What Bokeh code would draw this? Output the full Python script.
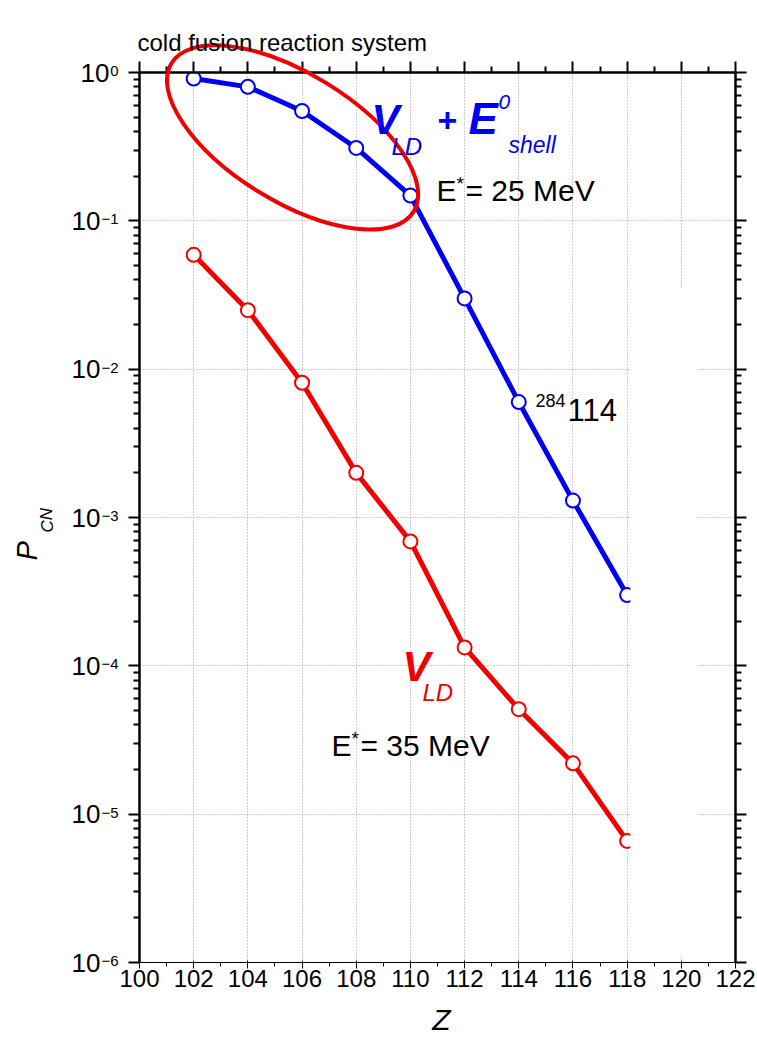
from bokeh.plotting import figure
from bokeh.models import (FixedTicker, LinearAxis, LogAxis, Range1d,
                          ColumnDataSource, CustomJSTickFormatter, BoxAnnotation)
from bokeh.core.properties import value
from bokeh.embed import file_html
from bokeh.resources import INLINE

# Atomic number of the compound nucleus
Z = [102, 104, 106, 108, 110, 112, 114, 116, 118]
# Fusion probability P_CN with the shell-corrected potential (E* = 25 MeV)
pcn_shell = [0.91, 0.80, 0.55, 0.31, 0.148, 0.030, 0.0060, 0.0013, 3.0e-4]
# Fusion probability P_CN with the liquid-drop potential only (E* = 35 MeV)
pcn_ld = [0.059, 0.025, 0.0081, 0.0020, 6.9e-4, 1.33e-4, 5.1e-5, 2.2e-5, 6.6e-6]

x_ticks = list(range(100, 123, 2))
x_minor = list(range(101, 122, 2))
decades = [0, -1, -2, -3, -4, -5, -6]

BLUE = "#0000f0"
RED = "#f00000"
SANS = "Liberation Sans"

W, H = 757, 1050
FL, FT, FW, FH = 139, 72, 596, 890

p = figure(width=W, height=H, x_range=Range1d(100, 122), y_range=Range1d(1e-6, 1),
           y_axis_type="log", output_backend="svg", toolbar_location=None,
           min_border_left=FL, min_border_right=W - FL - FW,
           min_border_top=FT, min_border_bottom=H - FT - FH)
p.outline_line_color = None
p.background_fill_color = "white"
p.border_fill_color = "white"

xt = FixedTicker(ticks=x_ticks, minor_ticks=x_minor)
yt = FixedTicker(ticks=[10.0 ** e for e in decades],
                 minor_ticks=[m * 10.0 ** e for e in range(-6, 0) for m in range(2, 10)])
blank = CustomJSTickFormatter(code="return ''")

p.xaxis.ticker = xt
p.yaxis.ticker = yt
p.yaxis.formatter = blank
p.xaxis.major_label_text_font = SANS
p.xaxis.major_label_text_font_size = "24px"
p.xaxis.major_label_text_color = "black"
p.xaxis.major_label_standoff = 1

top_axis = LinearAxis(ticker=xt, formatter=blank)
right_axis = LogAxis(ticker=yt, formatter=blank)
p.add_layout(top_axis, "above")
p.add_layout(right_axis, "right")

for ax in [p.xaxis[0], p.yaxis[0], top_axis, right_axis]:
    ax.axis_line_width = 2.5
    ax.axis_line_color = "black"
    ax.major_tick_line_width = 2
    ax.major_tick_line_color = "black"
    ax.minor_tick_line_width = 2
    ax.minor_tick_line_color = "black"
    ax.major_tick_in = 0
    ax.major_tick_out = 11
    ax.minor_tick_in = 0
    ax.minor_tick_out = 6

for g in [p.xgrid[0], p.ygrid[0]]:
    g.grid_line_color = "#9a9a9a"
    g.grid_line_width = 1
    g.grid_line_dash = "1 2"

src = ColumnDataSource(dict(z=Z, shell=pcn_shell, ld=pcn_ld))
p.line("z", "shell", source=src, line_color=BLUE, line_width=5)
p.scatter("z", "shell", source=src, size=14, fill_color="white", line_color=BLUE, line_width=2)
p.line("z", "ld", source=src, line_color=RED, line_width=5)
p.scatter("z", "ld", source=src, size=14, fill_color="white", line_color=RED, line_width=2)

# blank panel at the right edge of the frame
p.add_layout(BoxAnnotation(left=118.12, right=120.6, bottom=1.1e-6, top=0.035,
                           fill_color="white", fill_alpha=1.0, line_color=None,
                           level="glyph"))

# red ring around the low-Z part of the shell-corrected curve
ring = p.ellipse(x=[105.65], y=[0.365], width=284, height=128,
                 width_units="screen", height_units="screen", angle=-0.55,
                 fill_color=None, line_color=RED, line_width=4)
ring.level = "overlay"


def put(text, dx, dy, size, color="black", style="normal", align="left",
        angle=0.0, x0=100, y0=1.0):
    """Text pinned to a data anchor (frame top-left by default), shifted in pixels
    so that (dx, dy) is the start of the baseline."""
    lift = 0.5 * size - 3
    if angle:
        dx -= lift
    else:
        dy -= lift
    r = p.text(x=[x0], y=[y0], text=[text], x_offset=dx, y_offset=dy, angle=angle,
               text_font=value(SANS), text_font_size=f"{size}px",
               text_font_style=style, text_color=color, text_align=align,
               text_baseline="alphabetic")
    r.level = "overlay"


# y tick labels: 10 with a raised exponent
for e in decades:
    sup = "0" if e == 0 else "\u2212" + str(-e)
    put(sup, -21, 3, 15, align="right", y0=10.0 ** e)
    put("10", -22 - round(8.5 * len(sup)), 10, 26, align="right", y0=10.0 ** e)

# axis titles
put("Z", 441 - FL, 1031 - FT, 30, style="italic", align="center")
put("P", 38 - FL, 560 - FT, 29, style="italic", angle=1.5708)
put("CN", 52 - FL, 532 - FT, 17, style="italic", angle=1.5708)

# heading
put("cold fusion reaction system", 137 - FL, 51 - FT, 24)

# curve annotations
put("V", 371 - FL, 137 - FT, 42, color=BLUE, style="bold italic")
put("LD", 391 - FL, 155 - FT, 24, color=BLUE, style="italic")
put("+", 437 - FL, 134 - FT, 34, color=BLUE, style="bold")
put("E", 468 - FL, 137 - FT, 44, color=BLUE, style="bold italic")
put("0", 498 - FL, 109 - FT, 21, color=BLUE, style="italic")
put("shell", 508 - FL, 153 - FT, 23, color=BLUE, style="italic")

put("E", 436 - FL, 202 - FT, 30)
put("*", 456 - FL, 189 - FT, 19)
put("= 25 MeV", 465 - FL, 202 - FT, 30)

put("284", 535 - FL, 406 - FT, 18)
put("114", 567 - FL, 422 - FT, 31)

put("V", 402 - FL, 684 - FT, 42, color=RED, style="bold italic")
put("LD", 422 - FL, 701 - FT, 24, color=RED, style="italic")

put("E", 331 - FL, 757 - FT, 30)
put("*", 351 - FL, 744 - FT, 19)
put("= 35 MeV", 360 - FL, 757 - FT, 30)

open("out.html", "w").write(file_html(p, INLINE))
